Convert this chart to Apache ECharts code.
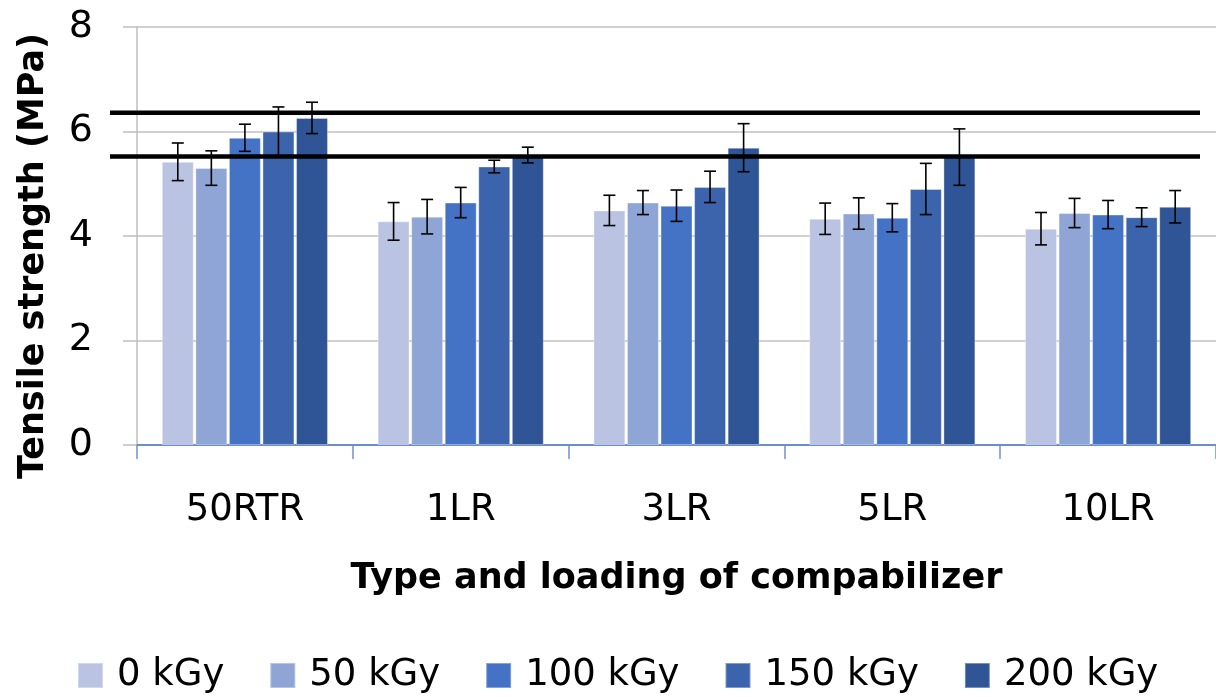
<!DOCTYPE html>
<html>
<head>
<meta charset="utf-8">
<script src="https://cdn.jsdelivr.net/npm/echarts@6/dist/echarts.min.js"></script>
<style>
html,body{margin:0;padding:0;background:#fff;}
#chart{width:1216px;height:697px;}
</style>
</head>
<body>
<div id="chart"></div>
<script>
var categories = ['50RTR', '1LR', '3LR', '5LR', '10LR'];
var seriesNames = ['0 kGy', '50 kGy', '100 kGy', '150 kGy', '200 kGy'];
var s0   = [5.42, 4.28, 4.49, 4.33, 4.14];
var s50  = [5.30, 4.37, 4.64, 4.43, 4.44];
var s100 = [5.88, 4.64, 4.58, 4.35, 4.41];
var s150 = [6.00, 5.33, 4.94, 4.90, 4.36];
var s200 = [6.26, 5.55, 5.69, 5.51, 4.56];
var e0   = [0.36, 0.36, 0.29, 0.30, 0.31];
var e50  = [0.33, 0.33, 0.23, 0.30, 0.28];
var e100 = [0.26, 0.29, 0.30, 0.27, 0.27];
var e150 = [0.47, 0.12, 0.30, 0.49, 0.18];
var e200 = [0.30, 0.15, 0.46, 0.54, 0.31];
var refLines = [6.36, 5.52];
var yTicks = [0, 2, 4, 6, 8];

var values = [s0, s50, s100, s150, s200];
var errors = [e0, e50, e100, e150, e200];
var colors = ['#BAC4E2', '#8FA5D5', '#4472C4', '#3B64AD', '#2F5597'];

var FONT = 'DejaVu Sans';
var CAT_GAP = 0.23, BAR_GAP = 0.05, N = 5;

function barCenter(api, idx, val, si) {
  var bw = api.size([1, 0])[0];
  var used = bw * (1 - CAT_GAP);
  var w = used / (N + (N - 1) * BAR_GAP);
  var c = api.coord([idx, val]);
  return { x: c[0] - used / 2 + w / 2 + si * w * (1 + BAR_GAP), y: c[1] };
}

var series = [];
values.forEach(function (vals, si) {
  series.push({
    name: seriesNames[si],
    type: 'bar',
    data: vals,
    barCategoryGap: (CAT_GAP * 100) + '%',
    barGap: (BAR_GAP * 100) + '%',
    itemStyle: { color: colors[si], borderColor: 'rgba(255,255,255,0.35)', borderWidth: 1 },
    z: 2
  });
});
values.forEach(function (vals, si) {
  series.push({
    type: 'custom',
    silent: true,
    z: 5,
    data: vals.map(function (v, i) { return [i, v, errors[si][i]]; }),
    encode: { x: 0, y: 1 },
    renderItem: function (params, api) {
      var idx = api.value(0), v = api.value(1), e = api.value(2);
      var top = barCenter(api, idx, v + e, si);
      var bot = barCenter(api, idx, v - e, si);
      var cap = 6;
      var st = { stroke: '#000', lineWidth: 1.6 };
      return {
        type: 'group',
        children: [
          { type: 'line', shape: { x1: top.x, y1: top.y, x2: bot.x, y2: bot.y }, style: st },
          { type: 'line', shape: { x1: top.x - cap, y1: top.y, x2: top.x + cap, y2: top.y }, style: st },
          { type: 'line', shape: { x1: bot.x - cap, y1: bot.y, x2: bot.x + cap, y2: bot.y }, style: st }
        ]
      };
    }
  });
});
series.push({
  type: 'custom',
  silent: true,
  z: 10,
  data: refLines.map(function (v) { return [0, v]; }),
  encode: { x: 0, y: 1 },
  clip: false,
  renderItem: function (params, api) {
    var y = api.coord([0, api.value(1)])[1];
    var cs = params.coordSys;
    return {
      type: 'line',
      shape: { x1: cs.x - 27, y1: y, x2: cs.x + cs.width - 16, y2: y },
      style: { stroke: '#000', lineWidth: 4.5 }
    };
  }
});

var chart = echarts.init(document.getElementById('chart'), null, { renderer: 'canvas' });
chart.setOption({
  animation: false,
  backgroundColor: '#fff',
  grid: { left: 137, top: 27, width: 1084, height: 418, containLabel: false },
  legend: {
    data: seriesNames,
    left: 77,
    top: 657,
    padding: 0,
    itemWidth: 25,
    itemHeight: 25,
    itemGap: 45,
    icon: 'rect',
    textStyle: { fontFamily: FONT, fontSize: 37, color: '#000', padding: [0, 0, 0, 9] }
  },
  xAxis: {
    type: 'category',
    data: categories,
    axisLine: { lineStyle: { color: '#4A78C8', width: 1.5 } },
    axisTick: { show: true, length: 14, lineStyle: { color: '#6E93D6', width: 1.5 } },
    axisLabel: { fontFamily: FONT, fontSize: 37, color: '#000', margin: 47 },
    name: 'Type and loading of compabilizer',
    nameLocation: 'middle',
    nameGap: 116,
    nameTextStyle: { fontFamily: FONT, fontSize: 35, fontWeight: 'bold', color: '#000' }
  },
  yAxis: {
    type: 'value',
    min: yTicks[0],
    max: yTicks[yTicks.length - 1],
    interval: 2,
    axisLine: { show: true, lineStyle: { color: '#BFBFBF', width: 1.5 } },
    axisTick: { show: true, inside: false, length: 14, lineStyle: { color: '#BFBFBF', width: 1.5 } },
    splitLine: { show: true, lineStyle: { color: '#C0C0C0', width: 1.5 } },
    axisLabel: { fontFamily: FONT, fontSize: 38, color: '#000', margin: 44 },
    name: 'Tensile strength (MPa)',
    nameLocation: 'middle',
    nameGap: 86,
    nameTextStyle: { fontFamily: FONT, fontSize: 35, fontWeight: 'bold', color: '#000', padding: [0, 40, 0, 0] }
  },
  series: series
});
</script>
</body>
</html>
